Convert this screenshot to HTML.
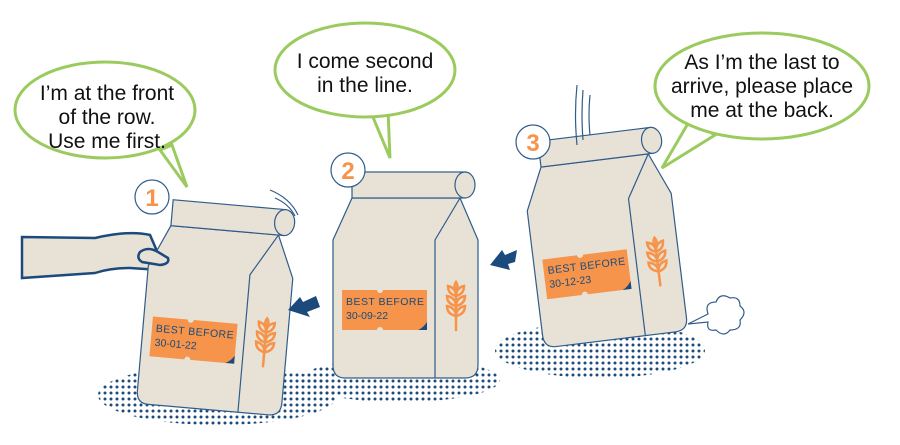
<!DOCTYPE html>
<html><head><meta charset="utf-8"><style>
html,body{margin:0;padding:0;background:#fff;width:900px;height:445px;overflow:hidden}
svg{display:block}
text{font-family:"Liberation Sans",sans-serif}
</style></head><body>
<svg width="900" height="445" viewBox="0 0 900 445" xmlns="http://www.w3.org/2000/svg">
<defs>
<pattern id="dots" width="6" height="6" patternUnits="userSpaceOnUse">
<circle cx="3" cy="3" r="1.5" fill="#1c4a7c"/>
</pattern>
<g id="wheat" fill="none" stroke="#f5944a" stroke-width="2.5" stroke-linecap="round">
<line x1="0" y1="-20" x2="0" y2="22"/>
<path d="M0,-12 q-8,-2 -8,-10 q8,2 8,10 z"/><path d="M0,-12 q8,-2 8,-10 q-8,2 -8,10 z"/>
<path d="M0,-2 q-9,-2 -9,-10 q9,2 9,10 z"/><path d="M0,-2 q9,-2 9,-10 q-9,2 -9,10 z"/>
<path d="M0,8 q-9,-2 -9,-10 q9,2 9,10 z"/><path d="M0,8 q9,-2 9,-10 q-9,2 -9,10 z"/>
<path d="M0,-16 q-3,-6 0,-10 q3,4 0,10z"/>
</g>
<g id="bag">
<path d="M352,198 L460,198 L478,240 L478,365 Q478,378 465,378 L345,378 Q333,378 333,365 L333,240 Z" fill="#e8e2d6" stroke="#2f5c8a" stroke-width="1.2"/>
<rect x="352" y="172" width="113" height="26" fill="#e8e2d6" stroke="#2f5c8a" stroke-width="1.2"/>
<ellipse cx="465" cy="185" rx="10" ry="13" fill="#e8e2d6" stroke="#2f5c8a" stroke-width="1.2"/>
<path d="M460,198 L435,240 L435,378" fill="none" stroke="#2f5c8a" stroke-width="1.2"/>
<path d="M342,290 h35 a3,3 0 0 0 6,0 h44 v40 h-44 a3,3 0 0 0 -6,0 h-35 z" fill="#f5944a"/>
<path d="M427,322 v8 h-9 q5,-2 9,-8z" fill="#1c4a7c"/>
<use href="#wheat" x="456" y="308"/>
</g>
</defs>

<!-- dots -->
<ellipse cx="218" cy="395" rx="120" ry="30" fill="url(#dots)"/>
<ellipse cx="400" cy="380" rx="100" ry="22" fill="url(#dots)"/>
<ellipse cx="600" cy="350" rx="105" ry="28" fill="url(#dots)"/>

<!-- bubbles -->
<g fill="#fff" stroke="#9bcb5e" stroke-width="3">
<path d="M160,150 L187,187 L172,145 Z"/>
<ellipse cx="105" cy="110" rx="90" ry="48"/>
<path d="M370,110 L390,158 L388,110 Z"/>
<ellipse cx="365" cy="70" rx="90" ry="47"/>
<path d="M690,120 L662,168 L715,135 Z"/>
<ellipse cx="762" cy="86" rx="107" ry="53"/>
</g>
<g fill="#fff"><ellipse cx="105" cy="110" rx="88" ry="46"/><ellipse cx="365" cy="70" rx="88" ry="45"/><ellipse cx="762" cy="86" rx="105" ry="51"/></g>
<g font-size="21" fill="#111" text-anchor="middle">
<text x="107" y="100">I’m at the front</text>
<text x="107" y="124">of the row.</text>
<text x="107" y="148">Use me first.</text>
<text x="365" y="68">I come second</text>
<text x="365" y="92">in the line.</text>
<text x="762" y="69">As I’m the last to</text>
<text x="762" y="93">arrive, please place</text>
<text x="762" y="117">me at the back.</text>
</g>

<!-- bag 1 with hand -->
<path d="M22,237 L95,238 Q130,230 150,235 L160,258 Q170,265 160,270 L130,268 Q110,268 95,273 L22,278 Z" fill="#e8e2d6" stroke="#1c4a7c" stroke-width="2.5"/>
<g transform="translate(-188,32) rotate(5 405 275)"><use href="#bag"/>
<text x="346" y="305" font-size="10.5" fill="#1c4a7c" textLength="78">BEST BEFORE</text>
<text x="346" y="319" font-size="10.5" fill="#1c4a7c">30-01-22</text></g>
<path d="M140,252 Q148,246 158,252 L168,258 Q170,264 160,265 L142,262 Q136,258 140,252Z" fill="#e8e2d6" stroke="#1c4a7c" stroke-width="2.5"/>
<path d="M270,190 q20,8 28,25 M275,198 q14,6 20,18" fill="none" stroke="#2f5c8a" stroke-width="1.2"/>

<!-- bag 2 -->
<use href="#bag"/>
<text x="346" y="305" font-size="10.5" fill="#1c4a7c" textLength="78">BEST BEFORE</text>
<text x="346" y="319" font-size="10.5" fill="#1c4a7c">30-09-22</text>

<!-- bag 3 -->
<g transform="translate(198,-38) rotate(-7 405 275)"><use href="#bag"/>
<text x="346" y="305" font-size="10.5" fill="#1c4a7c" textLength="78">BEST BEFORE</text>
<text x="346" y="319" font-size="10.5" fill="#1c4a7c">30-12-23</text></g>
<path d="M577,145 q-3,-30 0,-60 M583,140 q-2,-25 0,-50 M590,135 q-2,-20 0,-40" fill="none" stroke="#2f5c8a" stroke-width="1.2"/>
<path d="M688,324 L708,314 q-4,-12 8,-12 q4,-10 14,-4 q10,-2 10,8 q8,6 0,14 q2,10 -10,10 q-6,8 -14,0 q-10,2 -8,-8 z" fill="#fff" stroke="#2f5c8a" stroke-width="1.2"/>

<!-- arrows -->
<path d="M288,310 L300,297 L303,302 L316,296 L320,307 L307,312 L310,317 Z" fill="#1c4a7c"/>
<path d="M490,265 L502,250 L505,255 L517,250 L515,262 L508,264 L510,270 Z" fill="#1c4a7c"/>

<!-- numbers -->
<g fill="#fff" stroke="#2f5c8a" stroke-width="1.2">
<circle cx="152" cy="197" r="17"/><circle cx="348" cy="170" r="17"/><circle cx="533" cy="142" r="17"/>
</g>
<g font-size="24" font-weight="bold" fill="#f5944a" text-anchor="middle">
<text x="152" y="206">1</text><text x="348" y="179">2</text><text x="533" y="151">3</text>
</g>
</svg>
</body></html>
